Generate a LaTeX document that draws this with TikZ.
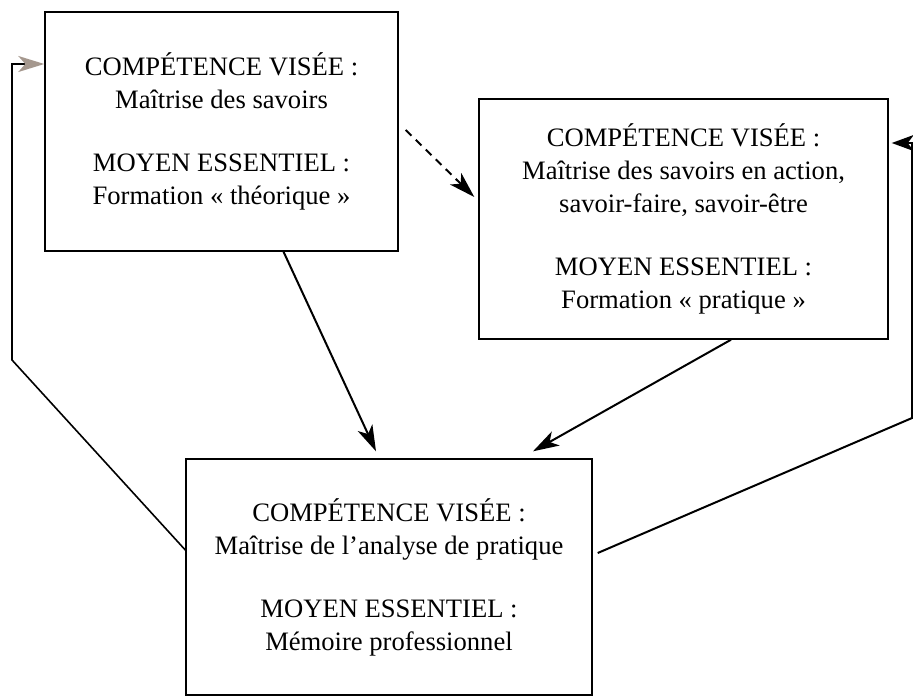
\documentclass[tikz,border=0pt]{standalone}
\usepackage{fontspec}
\setmainfont{Liberation Serif}
\usetikzlibrary{arrows.meta}
\usetikzlibrary{positioning}

\definecolor{tipgray}{RGB}{165,152,142}

\begin{document}
\begin{tikzpicture}[x=0.5pt, y=-0.5pt,
		box/.style={draw, line width=0.7pt, align=center, inner sep=0pt, font=\fontsize{13.3}{16.5}\selectfont},
		link/.style={line width=1pt, -{Stealth[length=13pt, width=8pt, inset=3.5pt]}},
		]
		
		\useasboundingbox (0,0) rectangle (913,696);
		
		\node[box, minimum width=176.5pt, minimum height=119.5pt] at (221.5,131.5) (th) {COMPÉTENCE VISÉE~: \\ Maîtrise des savoirs \\[15pt] MOYEN ESSENTIEL~: \\ Formation «~théorique~»};
		\node[box, minimum width=204.5pt, minimum height=120pt] at (683.5,219) (pr) {COMPÉTENCE VISÉE~: \\ Maîtrise des savoirs en action, \\ savoir-faire, savoir-être \\[15pt] MOYEN ESSENTIEL~: \\ Formation «~pratique~»};
		\node[box, minimum width=203pt, minimum height=118pt] at (389,577) (me) {COMPÉTENCE VISÉE~: \\ Maîtrise de l’analyse de pratique \\[15pt] MOYEN ESSENTIEL~: \\ Mémoire professionnel};
		
		\coordinate (lb) at (12,360);
		\coordinate (lt) at (12,64);
		\coordinate (rb) at (912,418);
		\coordinate (rt) at (912,143);
		
		\draw[link] ([xshift=31pt]th.south) -- ([xshift=-6.5pt, yshift=3.5pt]me.north);
		\draw[link] ([xshift=23.75pt]pr.south) -- ([xshift=72pt, yshift=3.5pt]me.north);
		\draw[link, dashed, dash pattern=on 4pt off 3pt] ([xshift=3.5pt, yshift=0.75pt]th.east) -- ([xshift=-2pt, yshift=11pt]pr.west);
		\draw[line width=0.8pt, -{Stealth[length=13pt, width=8pt, inset=3.5pt, color=tipgray]}] ([yshift=13.5pt]me.west) -- (lb) -- (lt) -- (lt -| th.west);
		\draw[line width=1pt] ([xshift=2.5pt, yshift=12pt]me.east) -- (rb) -- (rt);
		\draw[line width=1pt, -{Stealth[length=11pt, width=8pt, inset=3pt]}] ([xshift=0.5pt]rt) -- ([xshift=1.5pt]rt -| pr.east);
		
\end{tikzpicture}
\end{document}
